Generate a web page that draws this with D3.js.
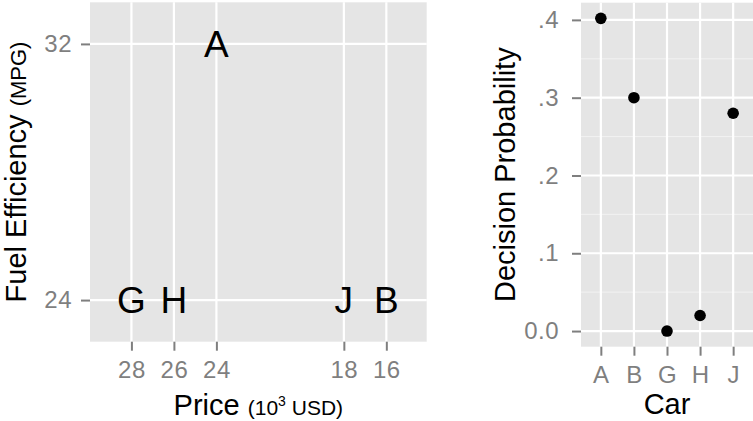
<!DOCTYPE html>
<html><head><meta charset="utf-8">
<script src="https://cdn.jsdelivr.net/npm/d3@7"></script>
<style>body{margin:0;background:#fff;} text{font-family:"Liberation Sans",Arial,sans-serif;}</style>
</head><body>
<svg id="c" width="753" height="421"></svg>
<script>
// ---- data ----
const cars = ["A","B","G","H","J"];
const price = [24, 16, 28, 26, 18];        // 10^3 USD
const mpg = [32, 24, 24, 24, 24];
const prob = [0.402, 0.30, 0.0, 0.02, 0.28];
const priceTicks = [28, 26, 24, 18, 16];
const mpgTicks = [32, 24];
const probTicks = [0, 0.1, 0.2, 0.3, 0.4];
const probTickLabels = ["0.0", ".1", ".2", ".3", ".4"];
const probMinor = [0.05, 0.15, 0.25, 0.35];

const svg = d3.select("#c");
const BG = "#E5E5E5", GREY = "#7F7F7F";
const tickFont = 24, titleFont = 29, subFont = 21, labelFont = 37;

// ---- left panel ----
const L = {x0: 90, x1: 426.7, y0: 2.3, y1: 341.7};
const xL = d3.scaleLinear().domain([29.95, 14.1]).range([L.x0, L.x1]);
const yL = d3.scaleLinear().domain([22.7, 33.3]).range([L.y1, L.y0]);
const gL = svg.append("g");
gL.append("rect").attr("x", L.x0).attr("y", L.y0).attr("width", L.x1 - L.x0).attr("height", L.y1 - L.y0).attr("fill", BG);
gL.selectAll(".vg").data(priceTicks).join("line")
  .attr("x1", d => xL(d)).attr("x2", d => xL(d)).attr("y1", L.y0).attr("y2", L.y1)
  .attr("stroke", "#fff").attr("stroke-width", 2.2);
gL.selectAll(".hg").data(mpgTicks).join("line")
  .attr("x1", L.x0).attr("x2", L.x1).attr("y1", d => yL(d)).attr("y2", d => yL(d))
  .attr("stroke", "#fff").attr("stroke-width", 2.2);
// axes
const axXL = d3.axisBottom(xL).tickValues(priceTicks).tickSize(9).tickPadding(10);
const axYL = d3.axisLeft(yL).tickValues(mpgTicks).tickSize(9).tickPadding(9);
function styleAxis(g){
  g.select(".domain").remove();
  g.attr("font-size", null).attr("font-family", null);
  g.selectAll(".tick line").attr("stroke", GREY).attr("stroke-width", 2);
  g.selectAll(".tick text").attr("fill", GREY)
    .style("font-size", tickFont + "px").style("letter-spacing", "0.5px")
    .style("font-family", "Liberation Sans, Arial, sans-serif");
}
svg.append("g").attr("transform", `translate(0,${L.y1})`).call(axXL).call(styleAxis);
svg.append("g").attr("transform", `translate(${L.x0},0)`).call(axYL).call(styleAxis);
// labels
gL.selectAll(".lab").data(cars).join("text")
  .attr("x", (d, i) => xL(price[i])).attr("y", (d, i) => yL(mpg[i]))
  .attr("dy", "0.36em").attr("text-anchor", "middle")
  .style("font-size", labelFont + "px").attr("fill", "#000").text(d => d);
// titles
const tx = svg.append("text").attr("x", (L.x0 + L.x1) / 2).attr("y", 415).attr("text-anchor", "middle").attr("fill", "#000");
tx.append("tspan").style("font-size", titleFont + "px").text("Price ");
tx.append("tspan").style("font-size", subFont + "px").text("(10");
tx.append("tspan").style("font-size", "14px").attr("dy", "-9").text("3");
tx.append("tspan").style("font-size", subFont + "px").attr("dy", "9").text(" USD)");
const ty = svg.append("text").attr("transform", `translate(26,${(L.y0 + L.y1) / 2}) rotate(-90)`).attr("text-anchor", "middle").attr("fill", "#000");
ty.append("tspan").style("font-size", titleFont + "px").text("Fuel Efficiency ");
ty.append("tspan").style("font-size", "22px").text("(MPG)");

// ---- right panel ----
const R = {x0: 581, x1: 753, y0: 2.7, y1: 346.7};
const xR = d3.scalePoint().domain(cars).range([R.x0, R.x1]).padding(0.6);
const pmax = d3.max(prob), pmin = d3.min(prob), ex = (pmax - pmin) * 0.05;
const yR = d3.scaleLinear().domain([pmin - ex, pmax + ex]).range([R.y1, R.y0]);
const gR = svg.append("g");
gR.append("rect").attr("x", R.x0).attr("y", R.y0).attr("width", R.x1 - R.x0).attr("height", R.y1 - R.y0).attr("fill", BG);
gR.selectAll(".mg").data(probMinor).join("line")
  .attr("x1", R.x0).attr("x2", R.x1).attr("y1", d => yR(d)).attr("y2", d => yR(d))
  .attr("stroke", "#F2F2F2").attr("stroke-width", 1);
gR.selectAll(".hg").data(probTicks).join("line")
  .attr("x1", R.x0).attr("x2", R.x1).attr("y1", d => yR(d)).attr("y2", d => yR(d))
  .attr("stroke", "#fff").attr("stroke-width", 2.2);
gR.selectAll(".vg").data(cars).join("line")
  .attr("x1", d => xR(d)).attr("x2", d => xR(d)).attr("y1", R.y0).attr("y2", R.y1)
  .attr("stroke", "#fff").attr("stroke-width", 2.2);
gR.selectAll(".pt").data(cars).join("circle")
  .attr("cx", d => xR(d)).attr("cy", (d, i) => yR(prob[i])).attr("r", 5.8).attr("fill", "#000");
const axXR = d3.axisBottom(xR).tickSize(9).tickPadding(10);
const axYR = d3.axisLeft(yR).tickValues(probTicks).tickFormat((d, i) => probTickLabels[i]).tickSize(9).tickPadding(13);
svg.append("g").attr("transform", `translate(0,${R.y1})`).call(axXR).call(styleAxis);
svg.append("g").attr("transform", `translate(${R.x0},0)`).call(axYR).call(styleAxis);
svg.append("text").attr("x", (R.x0 + R.x1) / 2).attr("y", 414).attr("text-anchor", "middle")
  .style("font-size", titleFont + "px").attr("fill", "#000").text("Car");
svg.append("text").attr("transform", `translate(515,${(R.y0 + R.y1) / 2}) rotate(-90)`).attr("text-anchor", "middle")
  .style("font-size", titleFont + "px").attr("fill", "#000").text("Decision Probability");
</script>
</body></html>
